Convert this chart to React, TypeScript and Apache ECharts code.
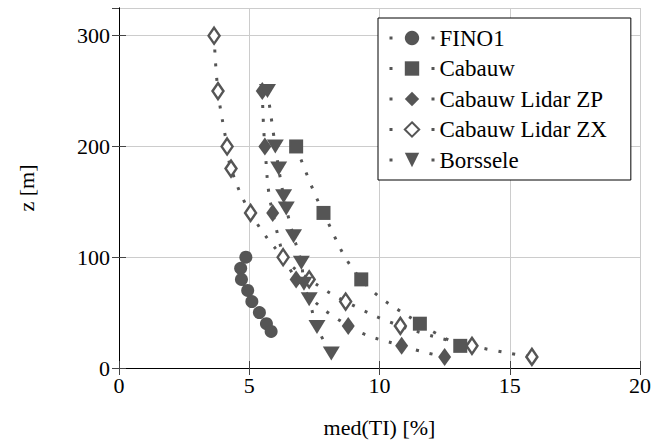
import React, { useEffect, useRef } from "react";
import * as echarts from "echarts";

// ---- data ----
const fino1X = [4.87, 4.67, 4.7, 4.94, 5.1, 5.39, 5.66, 5.84];
const fino1Z = [100, 90, 80, 70, 60, 50, 40, 33];

const cabauwX = [6.8, 7.85, 9.3, 11.55, 13.1];
const cabauwZ = [200, 140, 80, 40, 20];

const zpX = [5.5, 5.6, 5.9, 6.8, 8.8, 10.85, 12.5];
const zpZ = [250, 200, 140, 80, 38, 20, 10];

const zxX = [3.65, 3.8, 4.15, 4.3, 5.05, 6.3, 7.3, 8.7, 10.8, 13.55, 15.85];
const zxZ = [300, 250, 200, 180, 140, 100, 80, 60, 38, 20, 10];

const borsseleX = [5.7, 6.0, 6.13, 6.32, 6.42, 6.7, 7.0, 7.1, 7.3, 7.6, 8.15];
const borsseleZ = [250, 200, 180, 155, 144, 119, 95, 76, 62, 37, 13];

const seriesNames = ["FINO1", "Cabauw", "Cabauw Lidar ZP", "Cabauw Lidar ZX", "Borssele"];

const xTitle = "med(TI) [%]";
const yTitle = "z [m]";

const FONT = "'Liberation Serif', 'Times New Roman', serif";
const GRAY = "#555555";

const pairs = (xs: number[], zs: number[]) => xs.map((x, i) => [x, zs[i]]);

export default function App() {
  const ref = useRef<HTMLDivElement>(null);
  useEffect(() => {
    if (!ref.current) return;
    const chart = echarts.init(ref.current, undefined, { renderer: "svg" });
    const lineStyle = { color: GRAY, width: 3, type: [3, 11], cap: "butt" };
    const base = {
      type: "line",
      smooth: 0.4,
      lineStyle,
      emphasis: { disabled: true },
      xAxisIndex: 0,
      yAxisIndex: 0,
    };
    const axisText = { fontFamily: FONT, fontSize: 22, color: "#000" };
    chart.setOption({
      animation: false,
      textStyle: { fontFamily: FONT },
      grid: { left: 119, right: 12, top: 8, bottom: 72, containLabel: false },
      xAxis: [
        {
          type: "value",
          min: 0,
          max: 20,
          interval: 5,
          position: "bottom",
          axisLine: { show: true, lineStyle: { color: "#000", width: 1 } },
          axisTick: { show: true, inside: true, length: 7, lineStyle: { color: "#444" } },
          splitLine: { show: true, lineStyle: { color: "#cccccc", width: 1 } },
          axisLabel: { ...axisText, margin: 6 },
          name: xTitle,
          nameLocation: "middle",
          nameGap: 48,
          nameTextStyle: axisText,
        },
        {
          type: "value",
          min: 0,
          max: 20,
          interval: 5,
          position: "top",
          axisLine: { show: true, lineStyle: { color: "#000", width: 1 } },
          axisTick: { show: true, inside: true, length: 7, lineStyle: { color: "#444" } },
          splitLine: { show: false },
          axisLabel: { show: false },
        },
      ],
      yAxis: [
        {
          type: "value",
          min: 0,
          max: 325,
          interval: 100,
          position: "left",
          axisLine: { show: true, lineStyle: { color: "#000", width: 1 } },
          axisTick: { show: true, inside: true, length: 7, lineStyle: { color: "#444" } },
          splitLine: { show: true, lineStyle: { color: "#cccccc", width: 1 } },
          axisLabel: { ...axisText, margin: 9, showMaxLabel: false },
          name: yTitle,
          nameLocation: "middle",
          nameGap: 82,
          nameRotate: 90,
          nameTextStyle: axisText,
        },
        {
          type: "value",
          min: 0,
          max: 325,
          interval: 100,
          position: "right",
          axisLine: { show: true, lineStyle: { color: "#000", width: 1 } },
          axisTick: { show: true, inside: true, length: 7, lineStyle: { color: "#444" } },
          splitLine: { show: false },
          axisLabel: { show: false },
        },
      ],
      legend: {
        orient: "vertical",
        left: 378,
        top: 18,
        padding: [8.5, 24, 8.5, 10],
        itemGap: 7.5,
        itemWidth: 45,
        itemHeight: 18,
        borderColor: "#000",
        borderWidth: 1,
        borderRadius: 0,
        backgroundColor: "#fff",
        textStyle: { fontFamily: FONT, fontSize: 23, color: "#000", lineHeight: 23 },
        lineStyle: { type: [3, 39], width: 3 },
        data: seriesNames,
      },
      series: [
        {
          ...base,
          name: seriesNames[0],
          data: pairs(fino1X, fino1Z),
          symbol: "circle",
          symbolSize: 13,
          itemStyle: { color: GRAY },
        },
        {
          ...base,
          name: seriesNames[1],
          data: pairs(cabauwX, cabauwZ),
          symbol: "rect",
          symbolSize: 14,
          itemStyle: { color: GRAY },
        },
        {
          ...base,
          name: seriesNames[2],
          data: pairs(zpX, zpZ),
          symbol: "diamond",
          symbolSize: [13, 18],
          itemStyle: { color: GRAY },
        },
        {
          ...base,
          name: seriesNames[3],
          data: pairs(zxX, zxZ),
          symbol: "diamond",
          symbolSize: [11, 16],
          itemStyle: { color: "#fff", borderColor: GRAY, borderWidth: 2.5 },
        },
        {
          ...base,
          name: seriesNames[4],
          data: pairs(borsseleX, borsseleZ),
          symbol: "triangle",
          symbolRotate: 180,
          symbolSize: [17, 14],
          itemStyle: { color: GRAY },
        },
      ],
    });
    return () => chart.dispose();
  }, []);
  return (
    <div
      ref={ref}
      style={{ position: "absolute", left: 0, top: 0, width: 654, height: 443 }}
    />
  );
}
